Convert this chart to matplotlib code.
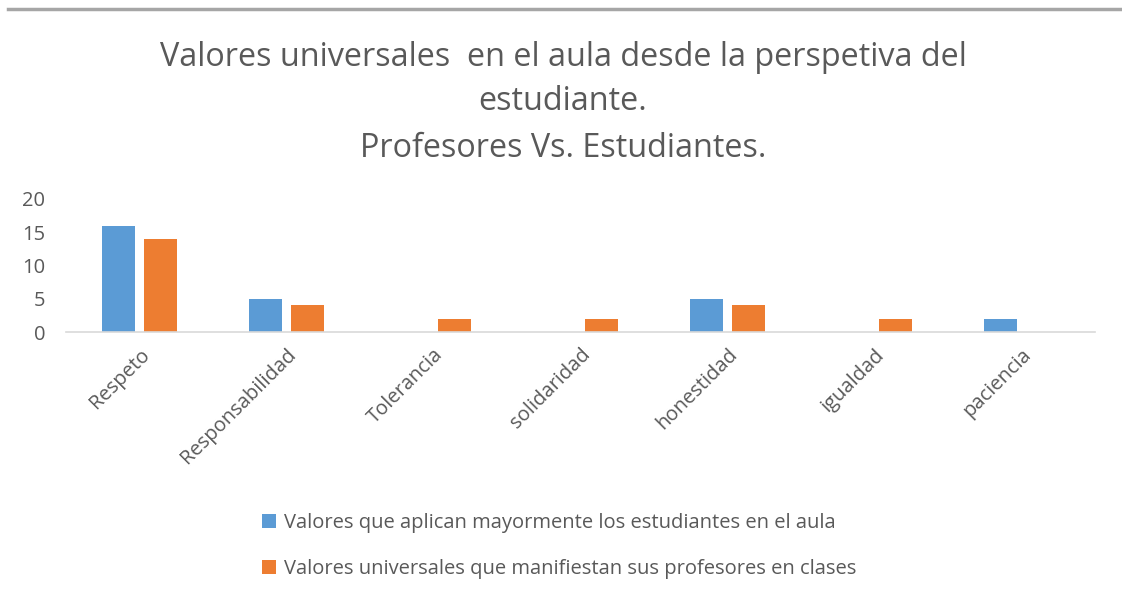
import matplotlib
matplotlib.use("Agg")
import matplotlib.pyplot as plt
import numpy as np

categories = ["Respeto", "Responsabilidad", "Tolerancia", "solidaridad", "honestidad", "igualdad", "paciencia"]
estudiantes = [16, 5, 0, 0, 5, 0, 2]
profesores = [14, 4, 2, 2, 4, 2, 0]
series_names = ["Valores que aplican mayormente los estudiantes en el aula",
                "Valores universales que manifiestan sus profesores en clases"]
title_lines = ["Valores universales  en el aula desde la perspetiva del",
               "estudiante.",
               "Profesores Vs. Estudiantes."]
yticks = [0, 5, 10, 15, 20]

plt.rcParams['font.family'] = ['Open Sans', 'DejaVu Sans']
txt = "#595959"
blue = "#5B9BD5"
orange = "#ED7D31"

W, H = 1122, 597
fig = plt.figure(figsize=(W/100, H/100), dpi=100)
ax = fig.add_axes([66/W, 1-332/H, (1095-66)/W, (332-199)/H])

x = np.arange(len(categories))
bw = 0.224
off = 0.143
ax.bar(x - off, estudiantes, bw, color=blue, label=series_names[0])
ax.bar(x + off, profesores, bw, color=orange, label=series_names[1])
ax.set_xlim(-0.5, len(categories) - 0.5)
ax.set_ylim(0, 20)
ax.set_yticks(yticks)
ax.set_xticks(x)
ax.set_xticklabels(categories, rotation=45, ha='right', rotation_mode='anchor')
ax.tick_params(axis='both', length=0, labelsize=14.5, colors=txt)
ax.tick_params(axis='y', pad=15)
ax.tick_params(axis='x', pad=9)
for s in ['top', 'right', 'left']:
    ax.spines[s].set_visible(False)
ax.spines['bottom'].set_color('#d9d9d9')
ax.spines['bottom'].set_linewidth(1.2)

# title
ys = [57, 101, 149]
for t, yy in zip(title_lines, ys):
    fig.text(563/W, 1-yy/H, t, ha='center', va='center', fontsize=23.3, color=txt)

# top border line
fig.add_artist(plt.Line2D([8/W, 1], [1-9/H, 1-9/H], color='#a6a6a6', lw=2.5, transform=fig.transFigure))

handles, labels = ax.get_legend_handles_labels()
leg = fig.legend(handles, labels, loc='upper left', bbox_to_anchor=(244/W, 1-495/H),
                 frameon=False, fontsize=14.5, labelcolor=txt, handlelength=0.7,
                 handleheight=0.7, handletextpad=0.4, labelspacing=1.3)

fig.savefig("out.png", dpi=100)
